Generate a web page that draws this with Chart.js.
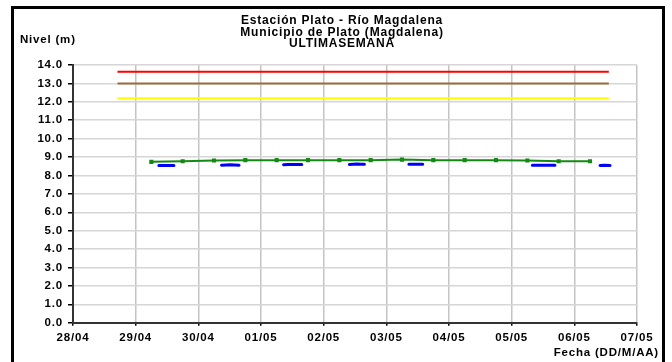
<!DOCTYPE html>
<html>
<head>
<meta charset="utf-8">
<script src="https://cdn.jsdelivr.net/npm/chart.js@4.4.1/dist/chart.umd.min.js"></script>
<style>
  body { margin: 0; background: #fff; }
</style>
</head>
<body>
<canvas id="nivel" width="672" height="362"></canvas>
<script>
// axis labels
const dayLabels = ['28/04', '29/04', '30/04', '01/05', '02/05', '03/05', '04/05', '05/05', '06/05', '07/05'];
const titleLines = ['Estación Plato - Río Magdalena', 'Municipio de Plato (Magdalena)', 'ULTIMASEMANA'];
const yTitle = 'Nivel (m)';
const xTitle = 'Fecha (DD/M/AA)';

// alert levels (start / end in days from 28/04)
const alertDays = [0.71, 8.55];
const alertRed = [13.64, 13.64];
const alertBrown = [13.0, 13.0];
const alertYellow = [12.2, 12.2];

// twice-daily readings
const dailyDays = [1.25, 1.75, 2.25, 2.75, 3.25, 3.75, 4.25, 4.75, 5.25, 5.75, 6.25, 6.75, 7.25, 7.75, 8.25];
const dailyLevels = [8.74, 8.77, 8.81, 8.83, 8.83, 8.83, 8.83, 8.83, 8.86, 8.83, 8.83, 8.83, 8.81, 8.77, 8.77];

// hourly readings (null = no data)
const hourlyDays = [1.37, 1.43, 1.49, 1.55, 1.61, 1.9,
  2.37, 2.44, 2.51, 2.58, 2.65, 2.9,
  3.36, 3.43, 3.50, 3.57, 3.65, 3.9,
  4.41, 4.47, 4.53, 4.59, 4.65, 4.9,
  5.36, 5.43, 5.50, 5.58, 5.9,
  7.33, 7.40, 7.47, 7.54, 7.61, 7.69, 7.9,
  8.41, 8.49, 8.57];
const hourlyLevels = [8.54, 8.54, 8.54, 8.54, 8.54, null,
  8.56, 8.57, 8.58, 8.57, 8.56, null,
  8.58, 8.59, 8.59, 8.59, 8.59, null,
  8.60, 8.61, 8.62, 8.61, 8.61, null,
  8.61, 8.61, 8.61, 8.61, null,
  8.56, 8.56, 8.55, 8.55, 8.55, 8.55, null,
  8.54, 8.55, 8.54];

const pts = (xs, ys) => xs.map((x, i) => ({ x: x, y: ys[i] }));
const FONT = '"Liberation Sans", Arial';

const frame = {
  id: 'frame',
  beforeDraw(chart) {
    // the original renders its text slightly spread out
    chart.ctx.letterSpacing = '0.8px';
  },
  afterDraw(chart) {
    const ctx = chart.ctx;
    ctx.save();
    ctx.strokeStyle = '#000';
    ctx.lineWidth = 3;
    ctx.strokeRect(12.5, 7.5, 651, 370);
    ctx.fillStyle = '#000';
    ctx.textBaseline = 'alphabetic';
    ctx.font = 'bold 12px ' + FONT;
    ctx.textAlign = 'center';
    titleLines.forEach((t, i) => ctx.fillText(t, 342, 24 + i * 11.5));
    ctx.font = 'bold 11.5px ' + FONT;
    ctx.textAlign = 'left';
    ctx.fillText(yTitle, 20, 43);
    ctx.textAlign = 'right';
    ctx.fillText(xTitle, 659, 355.5);
    ctx.restore();
  }
};

new Chart(document.getElementById('nivel'), {
  type: 'line',
  data: {
    datasets: [
      { data: pts(alertDays, alertRed), borderColor: '#ff0000', borderWidth: 2, pointRadius: 0 },
      { data: pts(alertDays, alertBrown), borderColor: '#9c6a3c', borderWidth: 2, pointRadius: 0 },
      { data: pts(alertDays, alertYellow), borderColor: '#ffff00', borderWidth: 2, pointRadius: 0 },
      { data: pts(hourlyDays, hourlyLevels), borderColor: '#0000ff', borderWidth: 3, pointRadius: 0,
        borderCapStyle: 'round', spanGaps: false },
      { data: pts(dailyDays, dailyLevels), borderColor: '#138a13', backgroundColor: '#138a13', borderWidth: 2,
        pointRadius: 1.5, pointStyle: 'rect' }
    ]
  },
  options: {
    responsive: false,
    animation: false,
    layout: { padding: { left: 0, top: 65, right: 35, bottom: 0 } },
    plugins: { legend: { display: false }, tooltip: { enabled: false } },
    scales: {
      x: {
        type: 'linear', min: 0, max: 9,
        afterFit: (s) => { s.height = 39.3; },
        grid: { color: '#c4c4c4', lineWidth: 1.5, tickColor: '#000', tickLength: 3 },
        border: { color: '#333', width: 2 },
        ticks: { stepSize: 1, padding: 5, color: '#000', font: { family: FONT, size: 11.5, weight: 'bold' },
          callback: (v) => dayLabels[v], maxRotation: 0, autoSkip: false }
      },
      y: {
        min: 0, max: 14,
        afterFit: (s) => { s.width = 73; },
        grid: { color: '#d6d6d6', lineWidth: 1.5, tickColor: '#000', tickLength: 5 },
        border: { color: '#333', width: 2 },
        ticks: { stepSize: 1, padding: 5, color: '#000', font: { family: FONT, size: 11.5, weight: 'bold' },
          callback: (v) => v.toFixed(1) }
      }
    }
  },
  plugins: [frame]
});
</script>
</body>
</html>
